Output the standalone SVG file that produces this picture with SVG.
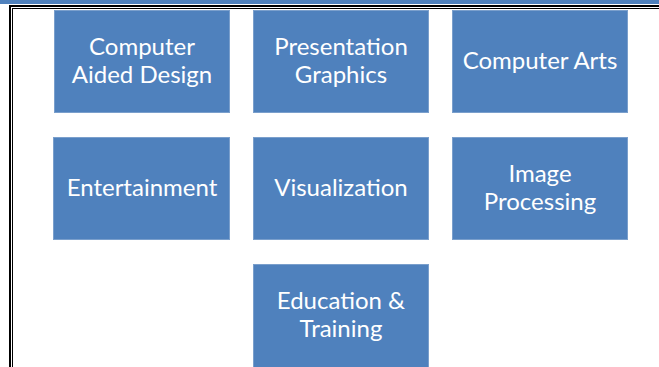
<svg xmlns="http://www.w3.org/2000/svg" width="659" height="367" viewBox="0 0 659 367">
<style>
.box{fill:#4F81BD;stroke:#7A9FCC;stroke-width:1}
.t{font-family:Lato,"Open Sans",sans-serif;font-size:24px;fill:#FFFFFF;text-anchor:middle}
</style>
<rect x="0" y="0" width="659" height="4" fill="#4F81BD"/>
<g id="frame">
<rect x="9" y="5" width="650" height="2" fill="#000"/>
<rect x="12" y="8" width="647" height="1" fill="#000"/>
<rect x="9" y="5" width="2" height="362" fill="#000"/>
<rect x="12" y="8" width="1" height="359" fill="#000"/>
</g>
<g id="connectors"></g>
<g id="cad"><rect class="box" x="54.5" y="10.5" width="175" height="102"/><text class="t" x="142" y="55">Computer</text><text class="t" x="142" y="83">Aided Design</text></g>
<g id="presentation"><rect class="box" x="253.5" y="10.5" width="175" height="102"/><text class="t" x="341" y="55">Presentation</text><text class="t" x="341" y="83">Graphics</text></g>
<g id="arts"><rect class="box" x="452.5" y="10.5" width="175" height="102"/><text class="t" x="540" y="69">Computer Arts</text></g>
<g id="entertainment"><rect class="box" x="53.5" y="137.5" width="176" height="102"/><text class="t" x="142" y="196">Entertainment</text></g>
<g id="visualization"><rect class="box" x="253.5" y="137.5" width="175" height="102"/><text class="t" x="341" y="196">Visualization</text></g>
<g id="image"><rect class="box" x="452.5" y="137.5" width="175" height="102"/><text class="t" x="540" y="182">Image</text><text class="t" x="540" y="210">Processing</text></g>
<g id="education"><rect class="box" x="253.5" y="264.5" width="175" height="104"/><text class="t" x="341" y="309">Education &amp;</text><text class="t" x="341" y="337">Training</text></g>
</svg>
